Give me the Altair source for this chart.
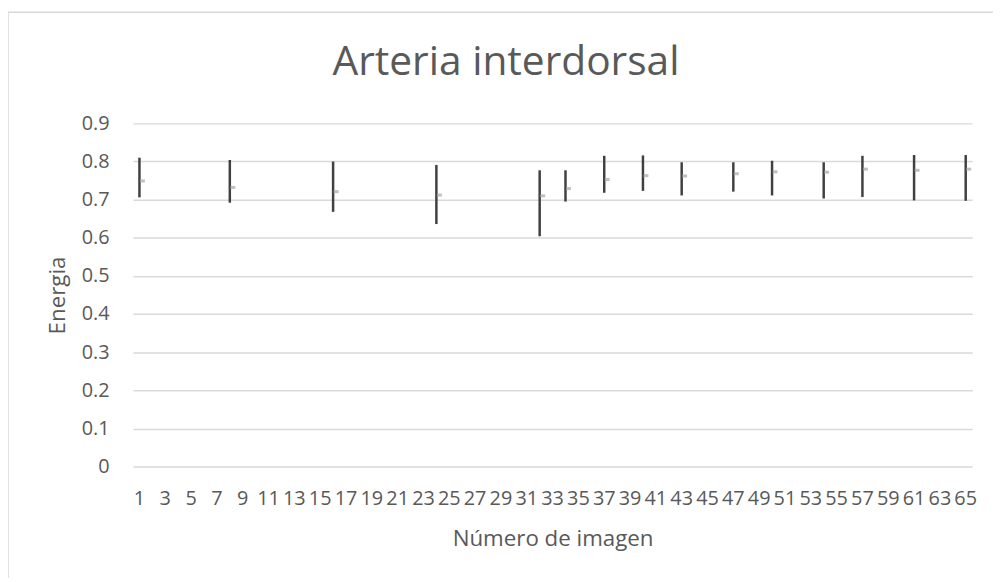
import altair as alt
import pandas as pd

# Data
image_number = [1, 8, 16, 24, 32, 34, 37, 40, 43, 47, 50, 54, 57, 61, 65]
high = [0.810, 0.804, 0.800, 0.791, 0.777, 0.777, 0.815, 0.816, 0.798, 0.798, 0.802, 0.798, 0.815, 0.817, 0.817]
low = [0.706, 0.692, 0.668, 0.636, 0.604, 0.695, 0.718, 0.723, 0.711, 0.721, 0.711, 0.703, 0.707, 0.698, 0.697]
close = [0.749, 0.732, 0.721, 0.712, 0.710, 0.729, 0.753, 0.763, 0.762, 0.768, 0.773, 0.772, 0.780, 0.777, 0.780]

categories = list(range(1, 66))
tick_labels = list(range(1, 66, 2))
y_ticks = [0, 0.1, 0.2, 0.3, 0.4, 0.5, 0.6, 0.7, 0.8, 0.9]
title_text = "Arteria interdorsal"

df = pd.DataFrame({"n": image_number, "high": high, "low": low, "close": close})

FONT = "Open Sans"
TXT = "#595959"
GRID = "#d9d9d9"

x_scale = alt.Scale(domain=categories, paddingInner=0, paddingOuter=0)
y_scale = alt.Scale(domain=[0, 0.9], nice=False, zero=True)

x_axis = alt.Axis(
    values=tick_labels,
    title="Número de imagen",
    labelAngle=0,
    labelOverlap=False,
    labelFlush=False,
    ticks=False,
    domain=False,
    grid=False,
    labelPadding=22,
    labelFontSize=20,
    labelColor=TXT,
    labelFont=FONT,
    titleFont=FONT,
    titleFontSize=22.5,
    titleFontWeight="normal",
    titleColor=TXT,
    titleBaseline="alphabetic",
    titleY=80,
)

y_axis = alt.Axis(
    values=y_ticks,
    format=".1~f",
    title="Energia",
    labelOverlap=False,
    ticks=False,
    domain=False,
    grid=True,
    gridColor=GRID,
    gridWidth=1.5,
    labelPadding=24,
    labelFontSize=20,
    labelColor=TXT,
    labelFont=FONT,
    titleFont=FONT,
    titleFontSize=22.5,
    titleFontWeight="normal",
    titleColor=TXT,
    titleBaseline="alphabetic",
    titleX=-69,
)

bars = alt.Chart(df).mark_rule(color="#404040", strokeWidth=2.5).encode(
    x=alt.X("n:O", scale=x_scale, axis=x_axis),
    y=alt.Y("low:Q", scale=y_scale, axis=y_axis),
    y2="high:Q",
)

closes = alt.Chart(df).mark_tick(
    orient="horizontal", color="#a5a5a5", size=5, thickness=3, xOffset=3
).encode(
    x=alt.X("n:O", scale=x_scale, axis=x_axis),
    y=alt.Y("close:Q", scale=y_scale, axis=y_axis),
)

one = pd.DataFrame({"a": [0]})

border = alt.Chart(one).mark_rect(fill=None, stroke=GRID, strokeWidth=1.5).encode(
    x=alt.value(-126), x2=alt.value(1000), y=alt.value(-112), y2=alt.value(700)
)

title = alt.Chart(one).mark_text(
    font=FONT, fontSize=41, color=TXT, align="center", baseline="alphabetic"
).encode(x=alt.value(376), y=alt.value(-49), text=alt.value(title_text))

chart = alt.layer(bars, closes, border, title).properties(
    width=846,
    height=346,
    autosize=alt.AutoSizeParams(type="none"),
    padding={"left": 126, "top": 114, "right": 21, "bottom": 110},
).configure(background="white").configure_view(stroke=None)

chart.save("out.html", embed_options={"renderer": "svg", "actions": False})
